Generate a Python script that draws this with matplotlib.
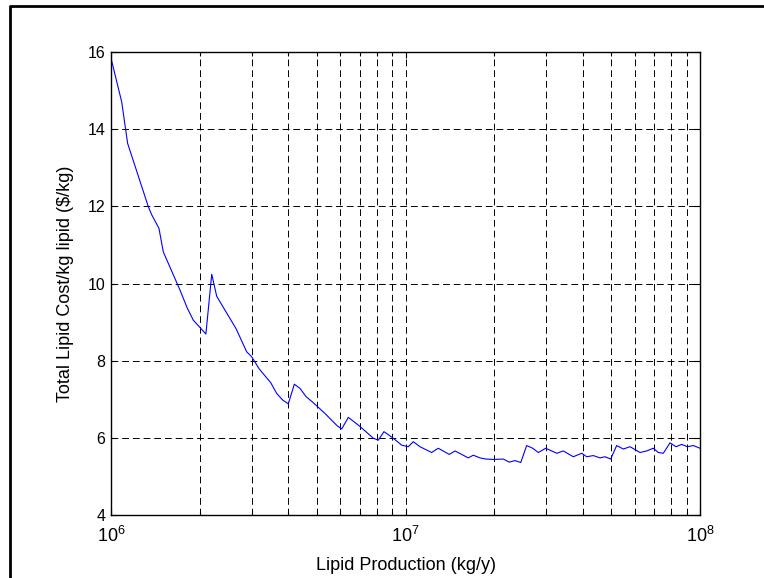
import matplotlib
matplotlib.use('Agg')
import matplotlib.pyplot as plt
from matplotlib.lines import Line2D


# Lipid production (kg/y) and total lipid cost ($/kg lipid).
production = [
    1.0e6, 1.087e6, 1.139e6, 1.339e6, 1.375e6, 1.455e6, 1.505e6, 1.715e6,
    1.816e6, 1.903e6, 2.10e6, 2.198e6, 2.285e6, 2.658e6, 2.889e6, 3.005e6,
    3.19e6, 3.486e6, 3.653e6, 3.828e6, 4.0e6, 4.193e6, 4.384e6, 4.594e6,
    4.863e6, 5.33e6, 5.866e6, 6.073e6, 6.395e6, 6.968e6, 7.775e6, 8.083e6,
    8.45e6, 9.05e6, 9.71e6, 1.022e7, 1.063e7, 1.12e7, 1.227e7, 1.292e7,
    1.408e7, 1.473e7, 1.634e7, 1.699e7, 1.79e7, 1.876e7, 1.987e7, 2.148e7,
    2.251e7, 2.354e7, 2.462e7, 2.579e7, 2.703e7, 2.825e7, 2.993e7, 3.262e7,
    3.435e7, 3.714e7, 3.966e7, 4.124e7, 4.342e7, 4.575e7, 4.757e7, 4.974e7,
    5.212e7, 5.49e7, 5.785e7, 6.257e7, 6.59e7, 6.94e7, 7.217e7, 7.506e7,
    7.909e7, 8.289e7, 8.667e7, 9.056e7, 9.491e7, 1.0e8,
]
cost = [
    15.84, 14.71, 13.63, 11.99, 11.78, 11.43, 10.82, 9.83,
    9.36, 9.05, 8.69, 10.24, 9.67, 8.83, 8.23, 8.10,
    7.78, 7.43, 7.15, 6.98, 6.88, 7.39, 7.28, 7.07,
    6.91, 6.63, 6.31, 6.23, 6.53, 6.31, 5.99, 5.94,
    6.16, 6.00, 5.81, 5.77, 5.90, 5.77, 5.62, 5.73,
    5.57, 5.66, 5.48, 5.55, 5.48, 5.45, 5.44, 5.45,
    5.37, 5.41, 5.36, 5.80, 5.73, 5.62, 5.73, 5.60,
    5.66, 5.51, 5.60, 5.51, 5.54, 5.48, 5.51, 5.45,
    5.80, 5.71, 5.77, 5.62, 5.66, 5.73, 5.62, 5.60,
    5.87, 5.77, 5.83, 5.77, 5.80, 5.73,
]
yticks = [4, 6, 8, 10, 12, 14, 16]

plt.rcParams['font.family'] = ['Liberation Sans', 'DejaVu Sans']
plt.rcParams['mathtext.fontset'] = 'custom'
plt.rcParams['mathtext.rm'] = 'Liberation Sans'
plt.rcParams['mathtext.default'] = 'regular'

fig = plt.figure(figsize=(7.64, 5.78), dpi=100)
ax = fig.add_axes([111/764, 63/578, 589/764, 463/578])

ax.plot(production, cost, color='#0000ff', lw=0.8)

ax.set_xscale('log')
ax.set_xlim(1e6, 1e8)
ax.set_ylim(4, 16)
ax.set_yticks(yticks)

ax.grid(True, which='both', axis='x', color='k', lw=0.7, ls=(0, (7, 4)))
ax.grid(True, which='major', axis='y', color='k', lw=0.7, ls=(0, (7, 4)))

ax.tick_params(which='both', direction='in', top=True, right=True,
               colors='k', width=0.8)
ax.tick_params(which='major', length=4)
ax.tick_params(which='minor', length=3)
ax.tick_params(axis='x', which='major', pad=8, labelsize=13)
ax.tick_params(axis='y', which='major', pad=4, labelsize=11.5)
for s in ax.spines.values():
    s.set_linewidth(1.0)

ax.set_xlabel('Lipid Production (kg/y)', fontsize=13, labelpad=8)
ax.set_ylabel('Total Lipid Cost/kg lipid ($/kg)', fontsize=13, labelpad=10)

# Figure border, left and top only.
fig.add_artist(Line2D([10/764, 10/764, 1.0], [0.0, 1 - 6/578, 1 - 6/578],
                      transform=fig.transFigure, color='k', lw=2.0))

fig.savefig('out.png', dpi=100)
